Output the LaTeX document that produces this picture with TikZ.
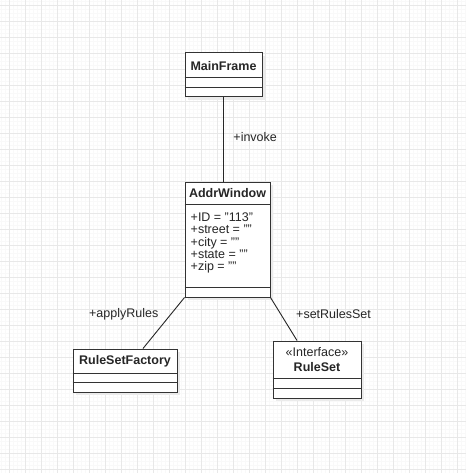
\documentclass[tikz,border=0pt]{standalone}
\usepackage{fontspec}
\setmainfont{Liberation Sans}
\usetikzlibrary{positioning,shadows}

\begin{document}
\begin{tikzpicture}[x=1pt,y=-1pt,
  font=\fontsize{12.5}{12.1}\selectfont,
  minorgrid/.style={draw=black!2.5, line width=0.5pt},
  majorgrid/.style={draw=black!9, line width=0.7pt},
  classbox/.style={draw=black!80, line width=1pt, fill=white, inner sep=0pt,
    drop shadow={shadow xshift=3pt, shadow yshift=-3pt, fill=black!8, opacity=1}},
  classline/.style={draw=black!80, line width=1pt},
  classtitle/.style={font=\fontsize{12.5}{12.1}\selectfont\bfseries, text=black!85, inner sep=0pt},
  attrs/.style={align=left, text=black!85, inner sep=0pt, anchor=west},
  assoc/.style={draw=black!85, line width=0.9pt},
  rolelabel/.style={text=black!85, inner sep=0pt}]

  \useasboundingbox (0,0) rectangle (466,473);
  \fill[white] (0,0) rectangle (466,473);

  % background grid
  \foreach \x in {1.3,5.3,...,466} \draw[minorgrid] (\x,0) -- (\x,473);
  \foreach \y in {1.3,5.3,...,473} \draw[minorgrid] (0,\y) -- (466,\y);
  \foreach \x in {9.3,25.3,...,466} \draw[majorgrid] (\x,0) -- (\x,473);
  \foreach \y in {5.3,21.3,...,473} \draw[majorgrid] (0,\y) -- (466,\y);

  % classes
  \node[classbox, minimum width=77pt, minimum height=44pt] (mainframe) at (223.5,75) {};
  \node[classtitle] (mainframe-title) at (223.5,65.7) {MainFrame};
  \draw[classline] ([yshift=-25pt]mainframe.north west) -- ([yshift=-25pt]mainframe.north east);
  \draw[classline] ([yshift=-35pt]mainframe.north west) -- ([yshift=-35pt]mainframe.north east);

  \node[classbox, minimum width=85pt, minimum height=115pt] (addrwindow) at (227.5,239.5) {};
  \node[classtitle] (addrwindow-title) at (227.5,193.3) {AddrWindow};
  \draw[classline] ([yshift=-23pt]addrwindow.north west) -- ([yshift=-23pt]addrwindow.north east);
  \draw[classline] ([yshift=-106pt]addrwindow.north west) -- ([yshift=-106pt]addrwindow.north east);
  \node[attrs] (addrwindow-attrs) at (190.5,243) {+ID = "113"\\+street = ""\\+city = ""\\+state = ""\\+zip = ""};

  \node[classbox, minimum width=104pt, minimum height=43pt] (rulesetfactory) at (125,370.5) {};
  \node[classtitle] (rulesetfactory-title) at (125,361) {RuleSetFactory};
  \draw[classline] ([yshift=-25pt]rulesetfactory.north west) -- ([yshift=-25pt]rulesetfactory.north east);
  \draw[classline] ([yshift=-34pt]rulesetfactory.north west) -- ([yshift=-34pt]rulesetfactory.north east);

  \node[classbox, minimum width=88pt, minimum height=57pt] (ruleset) at (317,369.5) {};
  \node[rolelabel] (ruleset-stereo) at (317,351.7) {«Interface»};
  \node[classtitle] (ruleset-title) at (317,366.7) {RuleSet};
  \draw[classline] ([yshift=-38pt]ruleset.north west) -- ([yshift=-38pt]ruleset.north east);
  \draw[classline] ([yshift=-48pt]ruleset.north west) -- ([yshift=-48pt]ruleset.north east);

  % associations
  \draw[assoc] (mainframe.south) -- node[rolelabel, pos=0.47, anchor=west, xshift=9.5pt] {+invoke} (mainframe.south |- addrwindow.north);
  \draw[assoc] (addrwindow.south west) -- node[rolelabel, anchor=east, xshift=-5pt, yshift=9pt] {+applyRules} ([xshift=18pt]rulesetfactory.north);
  \draw[assoc] (addrwindow.south east) -- node[rolelabel, anchor=west, xshift=12pt, yshift=5pt] {+setRulesSet} ([xshift=-20pt]ruleset.north);
\end{tikzpicture}
\end{document}
